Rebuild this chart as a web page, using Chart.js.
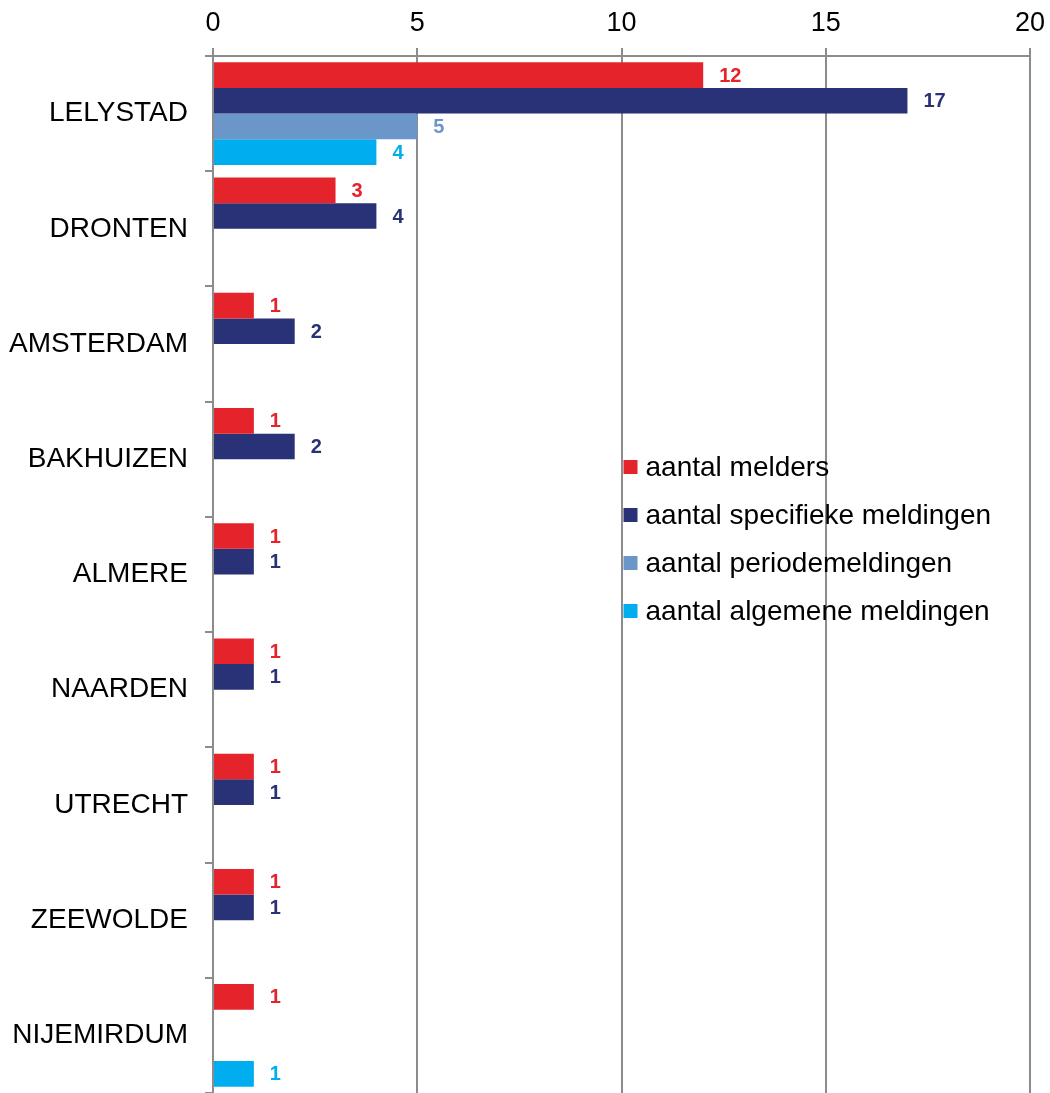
<!DOCTYPE html>
<html>
<head>
<meta charset="utf-8">
<script src="https://cdn.jsdelivr.net/npm/chart.js@4"></script>
<style>
  html, body { margin: 0; padding: 0; background: #fff; }
  #wrap { width: 1050px; height: 1093px; }
</style>
</head>
<body>
<div id="wrap"><canvas id="chart"></canvas></div>
<script>
// Categories (top to bottom)
const places = ['LELYSTAD', 'DRONTEN', 'AMSTERDAM', 'BAKHUIZEN', 'ALMERE', 'NAARDEN', 'UTRECHT', 'ZEEWOLDE', 'NIJEMIRDUM'];

// Series values
const melders     = [12, 3, 1, 1, 1, 1, 1, 1, 1];
const specifiek   = [17, 4, 2, 2, 1, 1, 1, 1, null];
const periode     = [5, null, null, null, null, null, null, null, null];
const algemeen    = [4, null, null, null, null, null, null, null, 1];

// Axis ticks
const xMin = 0, xMax = 20, xStep = 5;

const FONT = '"Liberation Sans", Arial, sans-serif';
const GRID = '#8c8c8c';

// Draws the bold value next to each bar
const valueLabels = {
  id: 'valueLabels',
  afterDatasetsDraw(chart) {
    const ctx = chart.ctx;
    ctx.save();
    ctx.font = 'bold 20px ' + FONT;
    ctx.textAlign = 'left';
    ctx.textBaseline = 'middle';
    chart.data.datasets.forEach((ds, i) => {
      const meta = chart.getDatasetMeta(i);
      meta.data.forEach((bar, j) => {
        const v = ds.data[j];
        if (v === null || v === undefined) return;
        ctx.fillStyle = ds.backgroundColor;
        ctx.fillText(String(v), bar.x + 16, bar.y + 1);
      });
    });
    ctx.restore();
  }
};

// Legend sitting inside the plot area
const innerLegend = {
  id: 'innerLegend',
  afterDraw(chart) {
    const ctx = chart.ctx;
    const x0 = chart.scales.x.getPixelForValue(10) + 2;
    let y = 467;
    ctx.save();
    ctx.font = '28px ' + FONT;
    ctx.textBaseline = 'middle';
    ctx.textAlign = 'left';
    chart.data.datasets.forEach(ds => {
      ctx.fillStyle = ds.backgroundColor;
      ctx.fillRect(x0, y - 7, 14, 14);
      ctx.fillStyle = '#000';
      ctx.fillText(ds.label, x0 + 22, y + 1);
      y += 48;
    });
    ctx.restore();
  }
};

new Chart(document.getElementById('chart'), {
  type: 'bar',
  data: {
    labels: places,
    datasets: [
      { label: 'aantal melders', data: melders, backgroundColor: '#e5232b' },
      { label: 'aantal specifieke meldingen', data: specifiek, backgroundColor: '#293276' },
      { label: 'aantal periodemeldingen', data: periode, backgroundColor: '#6a96c9' },
      { label: 'aantal algemene meldingen', data: algemeen, backgroundColor: '#00aeef' }
    ]
  },
  options: {
    indexAxis: 'y',
    responsive: true,
    maintainAspectRatio: false,
    animation: false,
    layout: { padding: { left: 0, right: 20, top: 0, bottom: 0 } },
    datasets: {
      bar: { categoryPercentage: 0.89, barPercentage: 1, borderWidth: 0 }
    },
    plugins: {
      legend: { display: false },
      tooltip: { enabled: false }
    },
    scales: {
      x: {
        position: 'top',
        min: xMin,
        max: xMax,
        ticks: { stepSize: xStep, color: '#000', font: { family: FONT, size: 27 }, padding: 8 },
        grid: { color: GRID, lineWidth: 2, tickLength: 8 },
        border: { color: GRID, width: 2 },
        afterFit(scale) {
          scale.height = 56;
          scale.paddingLeft = 0;
          scale.paddingRight = 0;
        }
      },
      y: {
        offset: true,
        ticks: { color: '#000', font: { family: FONT, size: 28 }, padding: 17 },
        grid: { display: true, offset: true, drawOnChartArea: false, color: GRID, lineWidth: 2, tickLength: 8 },
        border: { color: GRID, width: 2 },
        afterFit(scale) {
          scale.width = 213;
          scale.paddingTop = 0;
          scale.paddingBottom = 0;
        }
      }
    }
  },
  plugins: [valueLabels, innerLegend]
});
</script>
</body>
</html>
